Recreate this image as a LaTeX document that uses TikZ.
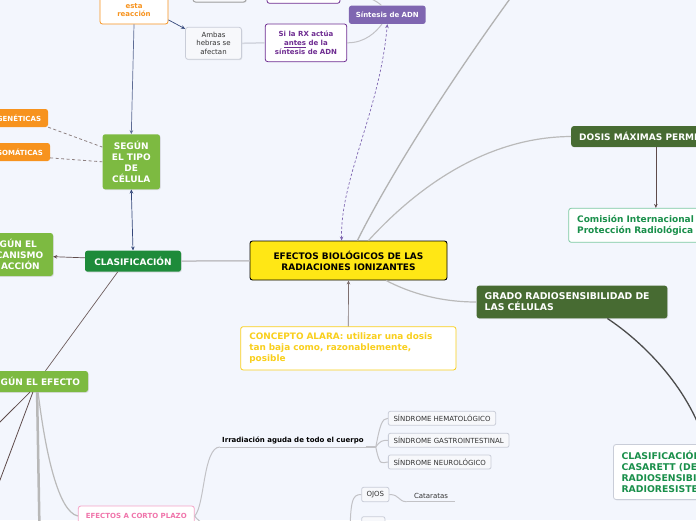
\documentclass[tikz,border=0pt]{standalone}
\usepackage{fontspec}
\setmainfont{DejaVu Sans}
\usetikzlibrary{arrows.meta, shadows}

\definecolor{bgpage}{HTML}{F3F6FD}
\definecolor{leaf}{HTML}{7DBA41}
\definecolor{clasgreen}{HTML}{1E8B3A}
\definecolor{olive}{HTML}{476B32}
\definecolor{orng}{HTML}{F7931E}
\definecolor{lila}{HTML}{7F66B1}
\definecolor{purp}{HTML}{6E2C91}
\definecolor{sun}{HTML}{FFE715}
\definecolor{alarayel}{HTML}{F9CF1C}
\definecolor{pinkb}{HTML}{F5A3C7}
\definecolor{pinkt}{HTML}{F075AB}
\definecolor{tealb}{HTML}{7CC9A2}
\definecolor{greent}{HTML}{198F4A}
\definecolor{greyb}{HTML}{C9CDD8}
\definecolor{boxfill}{HTML}{F7F8FB}
\definecolor{linkgrey}{HTML}{C2C2C6}
\definecolor{navy}{HTML}{34477A}
\definecolor{brownln}{HTML}{5E4B4B}

\begin{document}
\begin{tikzpicture}[
    x=1pt, y=-1pt,
    every node/.style={font=\fontsize{7}{8.6}\selectfont, inner sep=0pt},
    box/.style={rectangle, rounded corners=2.5pt, align=center},
    big/.style={font=\fontsize{9}{11}\selectfont\bfseries},
    small/.style={font=\fontsize{7}{8.6}\selectfont\bfseries},
    soft/.style={drop shadow={shadow xshift=0.8pt, shadow yshift=-0.8pt, opacity=0.2}},
    leafbox/.style={box, big, fill=leaf, text=white, soft},
    darkbox/.style={box, big, fill=olive, text=white, soft},
    orbox/.style={box, small, fill=orng, text=white},
    greybox/.style={box, fill=boxfill, draw=greyb, line width=0.8pt, text=black!80},
    tag/.style={greybox, rounded corners=2pt},
    arr/.style={-{Stealth[length=4pt,width=3.6pt]}, line width=0.7pt},
    arrtwo/.style={{Stealth[length=4pt,width=3.6pt]}-{Stealth[length=4pt,width=3.6pt]}, line width=0.7pt},
    link/.style={draw=linkgrey, line width=1pt},
    hint/.style={draw=brownln!70, line width=0.8pt, dash pattern=on 3pt off 2.5pt}
  ]

  \useasboundingbox (0,0) rectangle (696,520);
  \clip (0,0) rectangle (696,520);
  \fill[bgpage] (0,0) rectangle (696,520);

  %% Nodes
  \node[box, big, fill=sun, draw=black, line width=0.9pt, minimum width=197pt,
        minimum height=39pt] (ctr) at (348.5,260.5) {EFECTOS BIOLÓGICOS DE LAS\\RADIACIONES IONIZANTES};

  \node[box, big, fill=clasgreen, text=white, minimum width=96pt, minimum height=21pt, soft]
        (clasif) at (133,261.2) {CLASIFICACIÓN};
  \node[leafbox, minimum width=57.3pt, minimum height=55pt] (tipo) at (131.3,161.8) {SEGÚN\\EL TIPO\\DE\\CÉLULA};
  \node[leafbox, minimum width=82pt, minimum height=43pt] (meca) at (12,254.5) {SEGÚN EL\\MECANISMO\\DE ACCIÓN};
  \node[leafbox, minimum width=108pt, minimum height=21pt] (efecto) at (34,381.5) {SEGÚN EL EFECTO};
  \node[orbox, minimum width=58pt, minimum height=18pt] (gen) at (19,118) {GENÉTICAS};
  \node[orbox, minimum width=60pt, minimum height=18pt] (som) at (20,152) {SOMÁTICAS};

  \node[box, fill=white, draw=orng, line width=0.8pt, text=orng, font=\fontsize{7}{8}\selectfont\bfseries,
        minimum width=68pt, minimum height=28pt] (reac) at (134,10) {esta\\reacción};
  \node[greybox, minimum width=56pt, minimum height=32pt, soft] (ambas) at (213.5,43.3) {Ambas\\hebras se\\afectan};
  \node[box, small, fill=white, draw=purp, line width=0.8pt, text=purp, minimum width=81.5pt,
        minimum height=37.7pt] (sirx) at (306,42.8) {Si la RX actúa\\\underline{antes} de la\\síntesis de ADN};
  \node[box, small, fill=lila, text=white, minimum width=76.7pt, minimum height=18.3pt]
        (sint) at (387.3,14.8) {Síntesis de ADN};
  \node[greybox, draw=black!35, line width=1pt, minimum width=53pt, minimum height=22pt, soft] (topg) at (219.5,-9) {};
  \node[box, fill=white, draw=purp, line width=0.8pt, minimum width=73pt, minimum height=24pt] (topp) at (303.5,-8.7) {};

  \node[darkbox, anchor=west, minimum height=20.7pt, inner xsep=8pt] (dosis) at (571,136.5) {DOSIS MÁXIMAS PERMISIBLES};
  \node[box, anchor=west, fill=white, draw=tealb, line width=0.8pt, text=greent,
        font=\fontsize{9}{11}\selectfont\bfseries, align=left, minimum height=34pt, inner xsep=8.5pt]
        (comi) at (568.3,225.3) {Comisión Internacional de\\Protección Radiológica (ICRP)};

  \node[darkbox, font=\fontsize{9.3}{11}\selectfont\bfseries, align=left, text width=174.6pt,
        minimum width=190.6pt, minimum height=32.6pt]
        (grado) at (572,302) {GRADO RADIOSENSIBILIDAD DE\\LAS CÉLULAS};
  \node[box, font=\fontsize{9.3}{11}\selectfont\bfseries, fill=white, draw=greyb, line width=0.8pt,
        text=greent, align=left, text width=168pt, minimum width=184pt, minimum height=55pt, soft]
        (casa) at (705.5,472) {CLASIFICACIÓN DE\\CASARETT (DE\\RADIOSENSIBILIDAD Y\\RADIORESISTENCIA)};

  \node[box, fill=white, draw=alarayel, line width=0.8pt, text=alarayel,
        font=\fontsize{8.9}{10.8}\selectfont\bfseries, align=left, text width=198pt,
        minimum width=215.3pt, minimum height=43.3pt]
        (alara) at (348.3,348.3) {CONCEPTO ALARA: utilizar una dosis\\tan baja como, razonablemente,\\posible};

  \node[box, small, fill=white, draw=pinkb, line width=0.8pt, text=pinkt, minimum width=116pt,
        minimum height=20pt] (corto) at (136.3,516) {EFECTOS A CORTO PLAZO};
  \node[small, anchor=south west, inner xsep=2pt, inner ysep=3pt] (irr) at (220,447) {Irradiación aguda de todo el cuerpo};

  \node[tag, minimum width=107.4pt, minimum height=14pt] (hem) at (442,418.3) {SÍNDROME HEMATOLÓGICO};
  \node[tag, minimum width=120.7pt, minimum height=14pt] (gas) at (448.7,440.3) {SÍNDROME GASTROINTESTINAL};
  \node[tag, minimum width=102.7pt, minimum height=14pt] (neu) at (439.7,462) {SÍNDROME NEUROLÓGICO};
  \node[tag, minimum width=27.3pt, minimum height=14.4pt] (ojos) at (375.3,494.5) {OJOS};
  \node[tag, minimum width=23.3pt, minimum height=19pt] (otro) at (373.3,526.2) {};
  \node[anchor=south west, minimum width=48.3pt, inner ysep=3pt, text=black!80] (cat) at (406.7,501.7) {Cataratas};

  \coordinate (offtop) at (512,-4);
  \coordinate (offl1) at (-10,432);
  \coordinate (offl2) at (-6,496);
  \coordinate (offbot) at (39.5,530);
  \coordinate (sp) at (350,545);
  \coordinate (irrj) at ([xshift=10pt]irr.south east);

  %% Links from the centre
  \draw[link, line width=1.5pt] (clasif) -- (ctr);
  \draw[link, line width=1.3pt, draw=black!30] (ctr.66) .. controls (385,185) and (440,95) .. (offtop);
  \draw[link, line width=1.2pt, draw=black!27] (ctr.45) .. controls (410,195) and (480,137) .. (dosis.west);
  \draw[link, line width=1.2pt, draw=black!27] (ctr.-28) .. controls (410,293) and (440,302) .. (grado.west);
  \draw[arr, draw=brownln!80] (alara.north) -- (ctr.south);
  \draw[arrtwo, draw=lila, dash pattern=on 2.5pt off 2pt] (ctr.109) .. controls (340,180) and (380,110) .. (sint.south);

  %% Upper left branch
  \draw[arr, draw=navy!80] (reac.south) -- (tipo.north);
  \draw[arr, draw=navy] (reac.-16) -- (ambas.153);
  \draw[arrtwo, draw=navy] (tipo.south) -- (clasif.north);
  \draw[link, draw=greyb!80, line width=1.5pt] (ambas.east) -- (sirx.west);
  \draw[link] (sirx.east) .. controls (365,43) and (376,32) .. (sint.240);
  \draw[link] (sint.122) .. controls (377,1) and (365,-6) .. (topp.east);

  %% Left side
  \draw[hint] (gen.south east) -- (tipo.153);
  \draw[hint] (som.-11) -- (tipo.west);
  \draw[arr, draw=brownln] (clasif.176) -- (meca.-3);
  \draw[draw=brownln!90, line width=0.7pt] (clasif.215) -- (efecto.43);
  \draw[draw=brownln, line width=0.8pt] (efecto.249) -- (offl1);
  \draw[draw=brownln, line width=0.8pt] (efecto.264) -- (offl2);
  \draw[link, line width=2.5pt, draw=black!28] (efecto.-74) -- (offbot);
  \draw[link, line width=1.2pt, draw=black!27] (efecto.-69) .. controls (45,450) and (58,512) .. (corto.west);

  %% Short-term effects
  \draw[link] (corto.east) .. controls (200,525) and (250,560) .. (sp);
  \draw[link] (corto.east) .. controls (205,505) and (203,447) .. (irr.south west);
  \draw[link] (irr.south west) -- (irr.south east);
  \draw[link, line width=2.5pt] (irr.south east) -- (irrj);
  \draw[link] (irrj) .. controls (380,425) and (382,418.3) .. (hem.west);
  \draw[link] (irrj) .. controls (380,441) and (382,440.3) .. (gas.west);
  \draw[link] (irrj) .. controls (380,468) and (382,462) .. (neu.west);
  \draw[link] (sp) .. controls (350,500) and (352,494.5) .. (ojos.west);
  \draw[link] (sp) .. controls (350,530) and (353,526.2) .. (otro.west);
  \draw[link] (ojos.east) .. controls (400,494.5) and (398,501.7) .. (cat.south west);
  \draw[link] (cat.south west) -- (cat.south east);

  %% Right side
  \draw[draw=black!70, line width=1.3pt] (grado.-25) .. controls (640,340) and (688,385) .. (casa.north);
  \draw[arr, draw=brownln] (dosis.south) -- (dosis.south |- comi.north);

\end{tikzpicture}
\end{document}
